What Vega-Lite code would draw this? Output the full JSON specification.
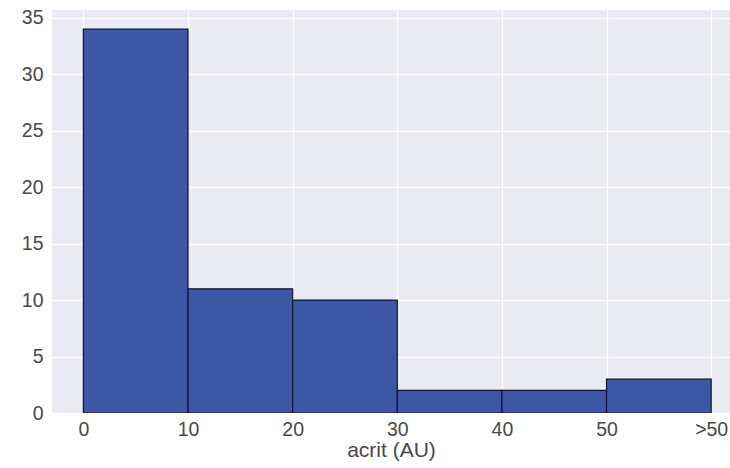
{
  "$schema": "https://vega.github.io/schema/vega-lite/v6.json",
  "width": 678,
  "height": 403,
  "autosize": {"type": "none"},
  "padding": {"left": 52, "top": 10, "right": 0, "bottom": 55},
  "background": "white",
  "config": {
    "view": {"fill": "#EAEAF2", "stroke": null},
    "axis": {
      "grid": true,
      "gridColor": "white",
      "gridWidth": 1.3,
      "domain": false,
      "ticks": false,
      "labelFont": "Liberation Sans",
      "labelFontSize": 19.5,
      "labelColor": "#484848",
      "titleFont": "Liberation Sans",
      "titleFontSize": 21,
      "titleColor": "#484848",
      "titleFontWeight": "normal"
    }
  },
  "data": {
    "values": [
      {"bin_start": 0, "bin_end": 10, "count": 34},
      {"bin_start": 10, "bin_end": 20, "count": 11},
      {"bin_start": 20, "bin_end": 30, "count": 10},
      {"bin_start": 30, "bin_end": 40, "count": 2},
      {"bin_start": 40, "bin_end": 50, "count": 2},
      {"bin_start": 50, "bin_end": 60, "count": 3}
    ]
  },
  "mark": {"type": "rect", "fill": "#3E56A6", "stroke": "#0E1230", "strokeWidth": 1.2, "clip": true},
  "encoding": {
    "x": {
      "field": "bin_start",
      "type": "quantitative",
      "scale": {"domain": [-3, 61.8], "nice": false, "zero": false},
      "axis": {
        "values": [0, 10, 20, 30, 40, 50, 60],
        "labelExpr": "datum.value == 60 ? '>50' : datum.label",
        "labelPadding": 7,
        "title": "acrit (AU)",
        "titlePadding": 1
      }
    },
    "x2": {"field": "bin_end"},
    "y": {
      "field": "count",
      "type": "quantitative",
      "scale": {"domain": [0, 35.7], "nice": false},
      "axis": {"values": [0, 5, 10, 15, 20, 25, 30, 35], "labelPadding": 9, "title": null}
    },
    "y2": {"datum": 0}
  }
}
